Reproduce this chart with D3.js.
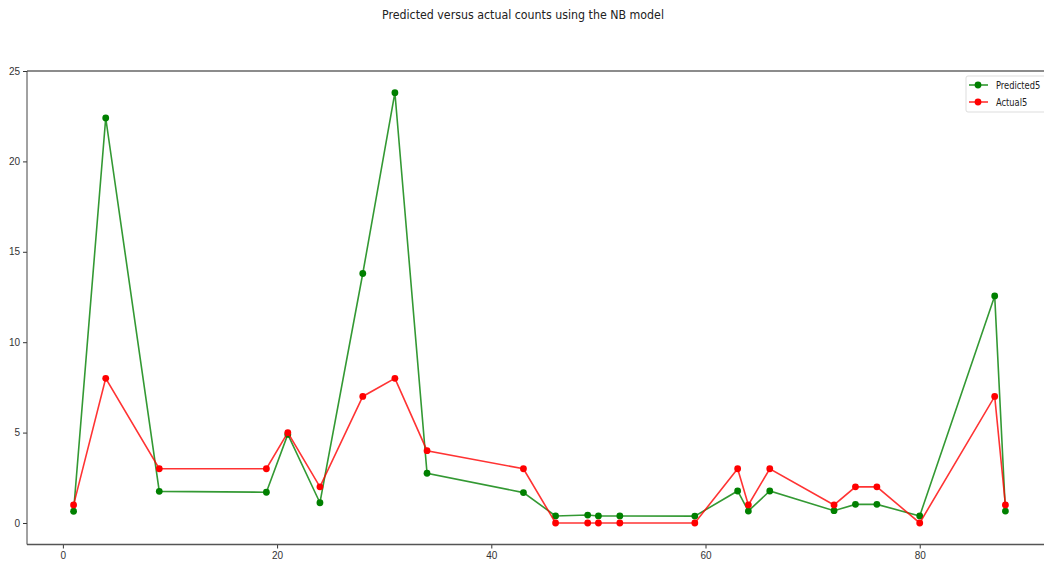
<!DOCTYPE html>
<html>
<head>
<meta charset="utf-8">
<script src="https://cdn.jsdelivr.net/npm/d3@7"></script>
<style>
    body { margin: 0; background: #fff; }
    svg { display: block; font-family: "DejaVu Sans Condensed", "DejaVu Sans", sans-serif; }
</style>
</head>
<body>
<div id="chart"></div>
<script>
// Data
var xIndex = [1, 4, 9, 19, 21, 24, 28, 31, 34, 43, 46, 49, 50, 52, 59, 63, 64, 66, 72, 74, 76, 80, 87, 88];
var predicted = [0.65, 22.4, 1.75, 1.7, 4.9, 1.12, 13.8, 23.8, 2.75, 1.68, 0.39, 0.44, 0.39, 0.39, 0.38, 1.77, 0.66, 1.77, 0.68, 1.03, 1.03, 0.39, 12.56, 0.66];
var actual = [1, 8, 3, 3, 5, 2, 7, 8, 4, 3, 0, 0, 0, 0, 0, 3, 1, 3, 1, 2, 2, 0, 7, 1];
var xTicks = [0, 20, 40, 60, 80];
var yTicks = [0, 5, 10, 15, 20, 25];
var seriesNames = ["Predicted5", "Actual5"];
var seriesColors = ["green", "red"];

var width = 1044, height = 565;

var svg = d3.select("#chart")
    .append("svg")
    .attr("width", width)
    .attr("height", height);

//Scales - the right side of the axes box runs past the picture edge
var x = d3.scaleLinear().domain([-3.35, 92.35]).range([27, 1052]);
var y = d3.scaleLinear().domain([-1.19, 25]).range([544.5, 71]);

//Title
svg.append("text")
    .attr("x", 523)
    .attr("y", 19)
    .attr("text-anchor", "middle")
    .attr("textLength", 282)
    .attr("lengthAdjust", "spacingAndGlyphs")
    .style("font-size", "12px")
    .style("fill", "#222")
    .text("Predicted versus actual counts using the NB model");

//Axes
var xAxis = svg.append("g")
    .attr("transform", "translate(0," + 544.5 + ")")
    .call(d3.axisBottom(x).tickValues(xTicks).tickSize(4).tickPadding(3));
var yAxis = svg.append("g")
    .attr("transform", "translate(" + 27 + ",0)")
    .call(d3.axisLeft(y).tickValues(yTicks).tickSize(4).tickPadding(3));

[xAxis, yAxis].forEach(function (ax) {
    ax.selectAll("text").style("font-size", "10px").style("fill", "#333");
    ax.selectAll("line").style("stroke", "#333");
    ax.select(".domain").remove();
});

//Spines
svg.append("line").attr("x1", 27).attr("x2", 1052).attr("y1", 71).attr("y2", 71)
    .style("stroke", "#666").style("stroke-width", 1.6);
svg.append("line").attr("x1", 27).attr("x2", 1052).attr("y1", 544.5).attr("y2", 544.5)
    .style("stroke", "#555").style("stroke-width", 1.4);
svg.append("line").attr("x1", 27).attr("x2", 27).attr("y1", 71).attr("y2", 544.5)
    .style("stroke", "#444").style("stroke-width", 1);

var line = d3.line()
    .x(function (d) { return x(d[0]); })
    .y(function (d) { return y(d[1]); });

//Draws one series - line plus markers
function drawSeries(values, color) {
    var pts = xIndex.map(function (v, i) { return [v, values[i]]; });
    svg.append("path")
        .datum(pts)
        .attr("d", line)
        .style("fill", "none")
        .style("stroke", color)
        .style("stroke-width", 1.6)
        .style("opacity", 0.8);
    svg.append("g")
        .selectAll("circle")
        .data(pts)
        .enter()
        .append("circle")
        .attr("cx", function (d) { return x(d[0]); })
        .attr("cy", function (d) { return y(d[1]); })
        .attr("r", 3.4)
        .style("fill", color);
}

drawSeries(predicted, seriesColors[0]);
drawSeries(actual, seriesColors[1]);

//Legend - box runs past the right edge like in the original
var legend = svg.append("g").attr("transform", "translate(966,76)");
legend.append("rect")
    .attr("width", 100).attr("height", 36)
    .attr("rx", 2)
    .style("fill", "#fff")
    .style("stroke", "#ddd");
seriesNames.forEach(function (name, i) {
    var ly = 9 + i * 17;
    legend.append("line")
        .attr("x1", 3).attr("x2", 22).attr("y1", ly).attr("y2", ly)
        .style("stroke", seriesColors[i]).style("stroke-width", 1.6).style("opacity", 0.8);
    legend.append("circle")
        .attr("cx", 12).attr("cy", ly).attr("r", 3.4)
        .style("fill", seriesColors[i]);
    legend.append("text")
        .attr("transform", "translate(30," + (ly + 4) + ") scale(0.88,1)")
        .style("font-size", "10.5px")
        .style("fill", "#222")
        .text(name);
});
</script>
</body>
</html>
